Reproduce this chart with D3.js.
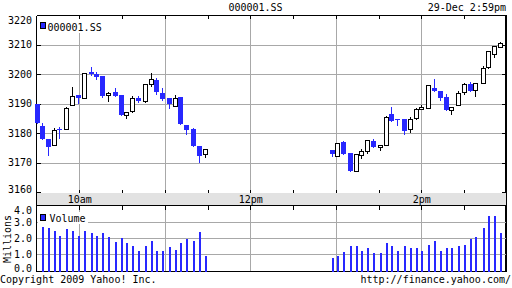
<!DOCTYPE html>
<html>
<head>
<meta charset="utf-8">
<script src="https://cdn.jsdelivr.net/npm/d3@7"></script>
<style>
  html, body { margin: 0; padding: 0; background: #fff; }
  svg { display: block; }
  text { font-family: "DejaVu Sans Mono", monospace; font-size: 10px; fill: #000; }
</style>
</head>
<body>
<svg id="chart" width="512" height="288"></svg>
<script>
// 000001.SS intraday, 29-Dec-2009
const candleTimes = [
  "9:30","9:34","9:38","9:42","9:46","9:51","9:55","9:59","10:03","10:08",
  "10:12","10:16","10:20","10:25","10:29","10:33","10:37","10:41","10:46","10:50",
  "10:54","10:58","11:03","11:07","11:11","11:15","11:20","11:24","11:28",
  "12:57","13:01","13:05","13:10","13:14","13:18","13:22","13:26","13:31","13:35",
  "13:39","13:43","13:48","13:52","13:56","14:00","14:05","14:09","14:13","14:17",
  "14:21","14:26","14:30","14:34","14:38","14:43","14:47","14:51","14:55"
];
const openVals = [
  3189.8,3182.5,3178.1,3175.9,3181.3,3181.3,3189.5,3193.0,3191.9,3200.7,
  3200.1,3199.5,3192.9,3194.1,3193.1,3186.1,3187.6,3192.0,3191.0,3196.7,
  3198.1,3193.7,3192.0,3189.3,3192.3,3182.8,3181.4,3175.7,3172.9,
  3174.3,3172.2,3177.0,3173.3,3167.1,3172.5,3173.9,3177.5,3175.2,3175.9,
  3186.4,3184.8,3184.8,3181.6,3185.3,3188.1,3188.5,3195.4,3194.3,3192.2,
  3187.8,3189.5,3194.0,3196.6,3194.6,3196.9,3202.4,3206.8,3209.2
];
const highVals = [
  3189.8,3183.6,3178.1,3181.7,3182.0,3189.0,3195.6,3193.0,3200.5,3202.4,
  3200.9,3199.5,3194.1,3195.5,3193.1,3187.1,3192.6,3192.6,3196.7,3200.3,
  3198.6,3195.4,3192.0,3193.0,3192.3,3182.8,3181.9,3175.7,3174.7,
  3174.3,3176.6,3177.4,3173.3,3172.9,3174.7,3177.7,3177.9,3175.9,3186.0,
  3188.8,3184.8,3185.0,3185.4,3188.5,3189.5,3196.3,3198.4,3194.3,3193.2,
  3188.8,3194.3,3196.9,3197.3,3196.9,3202.7,3207.8,3209.5,3211.0
];
const lowVals = [
  3183.6,3178.1,3172.8,3175.9,3178.5,3181.3,3189.5,3190.4,3191.9,3199.7,
  3198.3,3192.4,3190.9,3192.7,3186.2,3185.3,3187.3,3190.5,3190.7,3196.2,
  3193.3,3191.3,3188.6,3189.3,3183.3,3179.7,3175.7,3170.4,3171.8,
  3172.4,3172.2,3172.9,3167.1,3167.1,3171.7,3173.4,3175.2,3174.2,3175.9,
  3184.3,3182.9,3179.6,3180.5,3185.0,3188.1,3188.5,3194.2,3191.2,3188.0,
  3186.4,3189.5,3193.4,3194.4,3192.7,3196.9,3202.1,3205.7,3209.2
];
const closeVals = [
  3183.6,3178.1,3175.4,3181.0,3181.0,3188.5,3192.5,3191.9,3200.5,3200.1,
  3199.0,3192.7,3193.7,3192.7,3186.2,3187.1,3191.8,3191.0,3196.7,3198.3,
  3194.1,3191.7,3190.0,3191.9,3183.3,3181.1,3175.7,3172.3,3174.7,
  3172.9,3176.6,3172.9,3167.1,3172.9,3174.0,3177.7,3175.2,3175.9,3185.4,
  3184.3,3184.7,3180.8,3184.8,3188.1,3188.9,3196.3,3194.2,3192.1,3188.0,
  3188.8,3193.8,3196.7,3194.4,3196.9,3202.0,3207.8,3209.5,3210.5
];
// millions of shares
const volumeVals = [
  0,2.67,2.61,2.42,2.11,2.55,2.42,2.17,2.42,2.30,
  2.17,2.30,2.07,1.74,2.01,1.68,1.49,1.18,1.55,1.80,
  1.24,1.24,1.43,1.30,1.68,1.93,1.86,2.36,0.87,
  0.75,0.87,1.12,1.49,1.55,1.18,1.37,1.06,1.06,1.68,
  1.55,1.24,1.55,1.37,1.37,1.24,1.61,1.80,1.24,1.37,
  1.37,1.55,1.61,1.93,2.05,2.61,3.35,3.35,2.30
];
const priceTicks = [3160, 3170, 3180, 3190, 3200, 3210, 3220];
const volumeTicks = [0, 1, 2, 3, 4];
const hourLines = ["10:00", "11:00", "12:00", "13:00", "14:00"];
const halfHourTicks = ["10:00","10:30","11:00","11:30","12:00","12:30","13:00","13:30","14:00","14:30"];
const timeLabelAt = ["10:00", "12:00", "14:00"];
const timeLabels = ["10am", "12pm", "2pm"];

const BLUE = "#2828ff";
const GRID = "#a8a8a8";

const t = s => { const p = s.split(":"); return new Date(2009, 11, 29, +p[0], +p[1]); };
const px = v => Math.round(v) + 0.5;

const plotL = 36.5, plotR = 506;
const x = d3.scaleTime().domain([t("9:30"), t("15:00")]).range([36.5, 506.8]);
const y = d3.scaleLinear().domain([3160, 3220]).range([192.3, 15.3]);
const yv = d3.scaleLinear().domain([0, 4]).range([270.5, 206]);

const svg = d3.select("#chart");
svg.attr("shape-rendering", "crispEdges");

const data = candleTimes.map((s, i) => ({
  t: t(s), o: openVals[i], h: highVals[i], l: lowVals[i], c: closeVals[i], v: volumeVals[i]
}));

// ---------- header ----------
svg.append("text").attr("x", 255.5).attr("y", 11).attr("text-anchor", "middle").text("000001.SS");
svg.append("text").attr("x", 506).attr("y", 11).attr("text-anchor", "end").text("29-Dec 2:59pm");

// ---------- price panel ----------
const pTop = 15.5, pBot = 192.5;
const g = svg.append("g");

g.selectAll(".hgrid").data(priceTicks.slice(1, -1)).join("line")
  .attr("x1", plotL).attr("x2", plotR)
  .attr("y1", d => px(y(d))).attr("y2", d => px(y(d)))
  .attr("stroke", GRID);
g.selectAll(".vgrid").data(hourLines).join("line")
  .attr("x1", d => px(x(t(d)))).attr("x2", d => px(x(t(d))))
  .attr("y1", pTop).attr("y2", pBot)
  .attr("stroke", GRID);

// legend
g.append("rect").attr("x", 38).attr("y", 19).attr("width", 68).attr("height", 14).attr("fill", "#fff");
g.append("rect").attr("x", 40.5).attr("y", 22.5).attr("width", 5).attr("height", 6)
  .attr("fill", BLUE).attr("stroke", "#000");
g.append("text").attr("x", 47.5).attr("y", 30.5).text("000001.SS");

// ticks
g.selectAll(".tt").data(halfHourTicks).join("line")
  .attr("x1", d => px(x(t(d)))).attr("x2", d => px(x(t(d))))
  .attr("y1", pTop).attr("y2", pTop + 3).attr("stroke", "#000");
g.selectAll(".tb").data(halfHourTicks).join("line")
  .attr("x1", d => px(x(t(d)))).attr("x2", d => px(x(t(d))))
  .attr("y1", pBot - 3).attr("y2", pBot).attr("stroke", "#000");
g.selectAll(".tl").data(priceTicks).join("line")
  .attr("x1", plotL).attr("x2", plotL + 4)
  .attr("y1", d => px(y(d))).attr("y2", d => px(y(d))).attr("stroke", "#000");
g.selectAll(".tr").data(priceTicks).join("line")
  .attr("x1", plotR - 4).attr("x2", plotR)
  .attr("y1", d => px(y(d))).attr("y2", d => px(y(d))).attr("stroke", "#000");

// frame
g.append("line").attr("x1", plotL).attr("x2", plotR).attr("y1", pTop).attr("y2", pTop).attr("stroke", "#000");
g.append("line").attr("x1", plotL).attr("x2", plotL).attr("y1", pTop).attr("y2", 271.5).attr("stroke", "#000");
g.append("line").attr("x1", 506).attr("x2", 506).attr("y1", pTop - 0.5).attr("y2", 272)
  .attr("stroke", "#000").attr("stroke-width", 2);

// price labels
g.selectAll(".pl").data(priceTicks).join("text")
  .attr("x", 32).attr("text-anchor", "end")
  .attr("y", d => Math.min(Math.max(y(d), 20), 189) + 3.5)
  .text(d => d);

// candles
const cg = g.append("g");
data.forEach(d => {
  const cx = Math.round(x(d.t));
  const up = d.c >= d.o;
  const yt = Math.round(y(Math.max(d.o, d.c)));
  const yb = Math.round(y(Math.min(d.o, d.c)));
  cg.append("line")
    .attr("x1", cx + 0.5).attr("x2", cx + 0.5)
    .attr("y1", Math.round(y(d.h))).attr("y2", Math.round(y(d.l)) + 1)
    .attr("stroke", up ? "#000" : BLUE);
  if (up) {
    cg.append("rect")
      .attr("x", cx - 1.5).attr("y", yt + 0.5)
      .attr("width", 4).attr("height", Math.max(1, yb - yt))
      .attr("fill", "#fff").attr("stroke", "#000");
  } else {
    cg.append("rect")
      .attr("x", cx - 2).attr("y", yt)
      .attr("width", 5).attr("height", Math.max(1, yb - yt))
      .attr("fill", BLUE);
  }
});

// ---------- time band ----------
svg.append("rect").attr("x", plotL).attr("y", 193).attr("width", plotR - plotL).attr("height", 12.5)
  .attr("fill", "#e2e2e2");
svg.selectAll(".tlab").data(timeLabelAt).join("text")
  .attr("x", d => x(t(d)) + 0.5).attr("y", 203)
  .attr("text-anchor", "middle")
  .text((d, i) => timeLabels[i]);

// ---------- volume panel ----------
const vTop = 205.5, vBot = 271.5;
const vg = svg.append("g");
vg.selectAll(".vh").data(volumeTicks.slice(1, -1)).join("line")
  .attr("x1", plotL).attr("x2", plotR)
  .attr("y1", d => px(yv(d))).attr("y2", d => px(yv(d)))
  .attr("stroke", GRID);
vg.selectAll(".vv").data(hourLines).join("line")
  .attr("x1", d => px(x(t(d)))).attr("x2", d => px(x(t(d))))
  .attr("y1", vTop).attr("y2", vBot)
  .attr("stroke", GRID);

vg.append("rect").attr("x", 38).attr("y", 212).attr("width", 50).attr("height", 12).attr("fill", "#fff");
vg.append("rect").attr("x", 40.5).attr("y", 214.5).attr("width", 5).attr("height", 6)
  .attr("fill", BLUE).attr("stroke", "#000");
vg.append("text").attr("x", 49.5).attr("y", 222).text("Volume");

vg.selectAll(".vt").data(halfHourTicks).join("line")
  .attr("x1", d => px(x(t(d)))).attr("x2", d => px(x(t(d))))
  .attr("y1", vTop).attr("y2", vTop + 4).attr("stroke", "#000");
vg.append("line").attr("x1", plotL).attr("x2", plotR).attr("y1", vTop).attr("y2", vTop).attr("stroke", "#000");
vg.append("line").attr("x1", plotL).attr("x2", plotR).attr("y1", vBot).attr("y2", vBot).attr("stroke", "#000");

vg.selectAll(".vb").data(data.filter(d => d.v > 0)).join("rect")
  .attr("x", d => Math.round(x(d.t)))
  .attr("y", d => Math.round(yv(d.v)))
  .attr("width", 2)
  .attr("height", d => Math.round(yv(0)) - Math.round(yv(d.v)) + 1)
  .attr("fill", BLUE);

vg.selectAll(".vl").data(volumeTicks).join("text")
  .attr("x", 32).attr("text-anchor", "end")
  .attr("y", d => Math.min(Math.max(yv(d), 210), 268) + 3.5)
  .text(d => d.toFixed(1));
vg.append("text").attr("transform", "translate(11,239) rotate(-90)")
  .attr("text-anchor", "middle").text("Millions");

// ---------- footer ----------
svg.append("text").attr("x", 0).attr("y", 283).text("Copyright 2009 Yahoo! Inc.");
svg.append("text").attr("x", 511).attr("y", 283).attr("text-anchor", "end").text("http://finance.yahoo.com/");
</script>
</body>
</html>
